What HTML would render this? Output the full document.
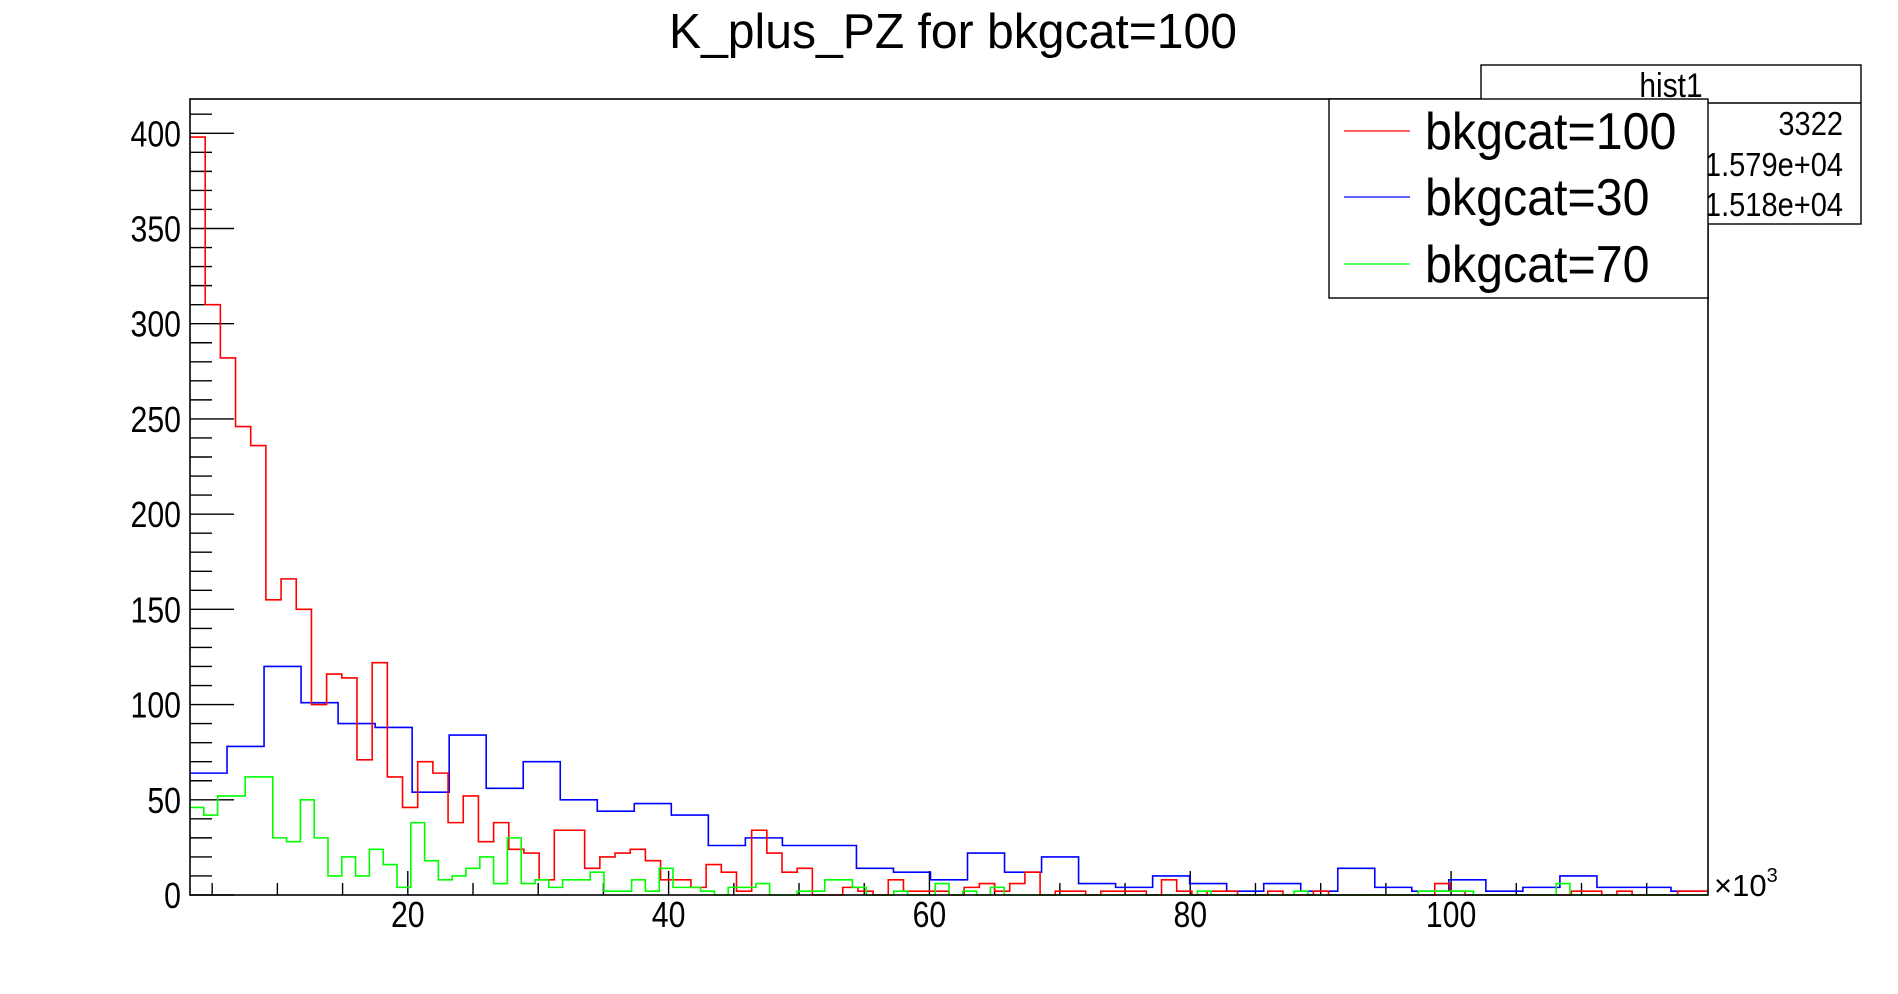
<!DOCTYPE html>
<html><head><meta charset="utf-8"><style>
html,body{margin:0;padding:0;background:#fff;}
svg{display:block;font-family:"Liberation Sans",sans-serif;}
</style></head><body>
<svg id="chart" width="1898" height="994" viewBox="0 0 1898 994">
<rect x="0" y="0" width="1898" height="994" fill="#fff"/>
<text x="953" y="48" font-size="49" text-anchor="middle" textLength="568" lengthAdjust="spacingAndGlyphs">K_plus_PZ for bkgcat=100</text>
<g id="axes"></g>
<g id="series"></g>
<rect x="190" y="99" width="1518" height="796" fill="none" stroke="#000" stroke-width="1.6"/>
<g>
<rect x="1481" y="65" width="380" height="159" fill="#fff" stroke="#000" stroke-width="1.4"/>
<line x1="1481" y1="103" x2="1861" y2="103" stroke="#000" stroke-width="1.4"/>
<text transform="translate(1671,97) scale(0.88,1)" font-size="34" text-anchor="middle">hist1</text>
<text transform="translate(1843,135) scale(0.88,1)" font-size="33" text-anchor="end">3322</text>
<text transform="translate(1843,176) scale(0.88,1)" font-size="33" text-anchor="end">1.579e+04</text>
<text transform="translate(1843,216) scale(0.88,1)" font-size="33" text-anchor="end">1.518e+04</text>
</g>
<g>
<rect x="1329" y="99" width="379" height="199" fill="#fff" stroke="#000" stroke-width="1.4"/>
<line x1="1344" y1="131" x2="1410" y2="131" stroke="#f00" stroke-width="1.3"/>
<text transform="translate(1425,149) scale(0.93,1)" font-size="52">bkgcat=100</text>
<line x1="1344" y1="197" x2="1410" y2="197" stroke="#00f" stroke-width="1.3"/>
<text transform="translate(1425,215) scale(0.93,1)" font-size="52">bkgcat=30</text>
<line x1="1344" y1="264" x2="1410" y2="264" stroke="#0f0" stroke-width="1.3"/>
<text transform="translate(1425,282) scale(0.93,1)" font-size="52">bkgcat=70</text>
</g>
<text x="1714" y="896" font-size="31">×10<tspan font-size="20" dy="-14">3</tspan></text>
</svg>
<script>
const xMin = 3.3, xMax = 119.7, yMin = 0, yMax = 418;
const xTickLabels = [20, 40, 60, 80, 100];
const yTickLabels = [0, 50, 100, 150, 200, 250, 300, 350, 400];
const redCounts = [398,310,282,246,236,155,166,150,100,116,114,71,122,62,46,70,64,38,52,28,38,24,22,8,34,34,14,20,22,24,18,8,8,4,16,12,2,34,22,12,14,0,0,4,2,0,8,2,2,2,0,4,6,2,6,12,0,2,2,0,2,2,2,0,8,2,0,2,2,0,0,2,0,0,2,0,0,0,0,0,0,0,6,2,0,0,0,0,0,0,0,2,2,0,2,0,0,0,2,2];
const blueCounts = [64,78,120,101,90,88,54,84,56,70,50,44,48,42,26,30,26,26,14,12,8,22,12,20,6,4,10,6,2,6,2,14,4,2,8,2,4,10,4,4,2];
const greenCounts = [46,42,52,52,62,62,30,28,50,30,10,20,10,24,16,4,38,18,8,10,14,20,6,30,6,8,4,8,8,12,2,2,8,2,14,4,4,2,0,4,4,6,0,0,2,2,8,8,4,0,0,2,0,0,6,0,2,0,4,0,0,0,0,0,0,0,0,0,0,0,0,0,0,2,0,0,0,0,0,0,2,0,0,0,0,0,0,0,0,2,2,2,2,0,0,0,0,0,0,6,0,0,0,0,0,0,0,0,0,0];
const PX0 = 190, PX1 = 1708, PY0 = 895, PY1 = 99;
const NS = 'http://www.w3.org/2000/svg';
function xs(v){ return PX0 + (v - xMin) / (xMax - xMin) * (PX1 - PX0); }
function ys(v){ return PY0 - (v - yMin) / (yMax - yMin) * (PY0 - PY1); }
const axes = document.getElementById('axes');
function mk(tag, attrs, parent){ const e = document.createElementNS(NS, tag); for (const k in attrs) e.setAttribute(k, attrs[k]); parent.appendChild(e); return e; }
for (let v = 0; v <= 410; v += 10) {
  const major = v % 50 === 0;
  const t = mk('line', {x1: PX0, x2: PX0 + (major ? 44 : 22), y1: ys(v), y2: ys(v), stroke: '#000', 'stroke-width': 1.4}, axes);
  
  
}
yTickLabels.forEach(v => {
  const t = mk('text', {transform: 'translate(181,' + (ys(v) + 13) + ') scale(0.84,1)', 'font-size': 36, 'text-anchor': 'end'}, axes);
  t.textContent = v;
  
  
});
for (let v = 5; v < xMax; v += 5) {
  const major = v % 20 === 0;
  const t = mk('line', {x1: xs(v), x2: xs(v), y1: PY0, y2: PY0 - (major ? 24 : 12), stroke: '#000', 'stroke-width': 1.4}, axes);
  
  
}
xTickLabels.forEach(v => {
  const t = mk('text', {transform: 'translate(' + xs(v) + ',927) scale(0.84,1)', 'font-size': 36, 'text-anchor': 'middle'}, axes);
  t.textContent = v;
  
  
});
const series = document.getElementById('series');
function hist(counts, color, name){
  const w = (xMax - xMin) / counts.length;
  let d = '';
  counts.forEach((c, i) => {
    const xa = xs(xMin + i * w), xb = xs(xMin + (i + 1) * w), y = ys(c);
    d += (i === 0 ? 'M' + xa + ',' + y : 'V' + y) + 'H' + xb;
  });
  const p = mk('path', {d: d, fill: 'none', stroke: color, 'stroke-width': 1.6}, series);
  
  
}
hist(blueCounts, '#00f', 'histogram-bkgcat30');
hist(redCounts, '#f00', 'histogram-bkgcat100');
hist(greenCounts, '#0f0', 'histogram-bkgcat70');
</script>
</body></html>
